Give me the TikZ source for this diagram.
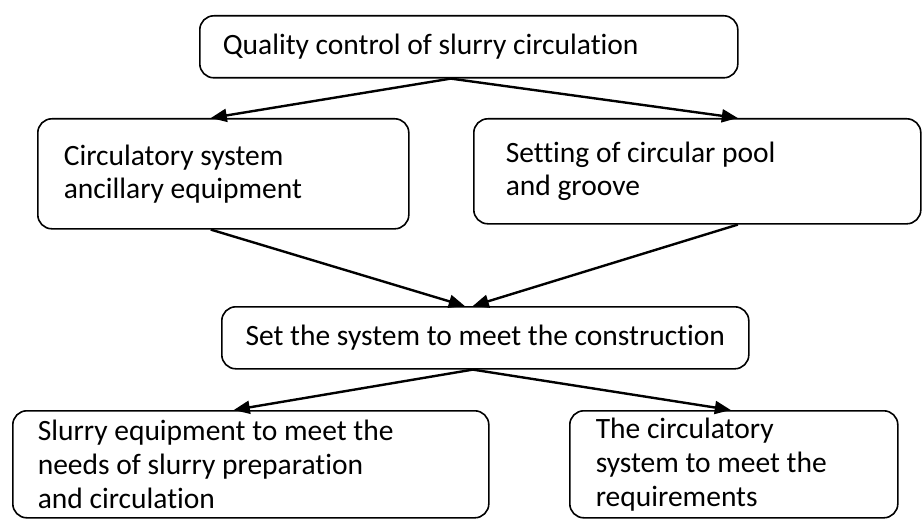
\documentclass[tikz,border=0pt]{standalone}
\usepackage{fontspec}
\setmainfont{Carlito}[Ligatures=NoCommon]
\usetikzlibrary{arrows.meta}
\tikzset{
	box/.style={draw, rounded corners=14pt, line width=1.6pt, align=flush left, anchor=north west, inner ysep=0pt, font=\fontsize{29.5}{33}\selectfont},
	lowbox/.style={box, font=\fontsize{29.5}{34}\selectfont},
	arr/.style={-{Triangle[length=16pt,width=13pt]}, line width=2.4pt}
}

\begin{document}
\begin{tikzpicture}[x=1pt,y=-1pt,color=black]
	\useasboundingbox (0,0) rectangle (922,519);
	\node[box, text width=492pt, inner xsep=23pt, minimum height=62pt] (qc) at (199,15) {Quality control of slurry circulation};
	\node[box, text width=319pt, inner xsep=26pt, minimum height=110pt] (cs) at (37,118) {Circulatory system\\ancillary equipment};
	\node[box, text width=383pt, inner xsep=32pt, minimum height=105pt] (sp) at (473,118) {Setting of circular pool\\and groove};
	\node[box, inner xsep=0pt, minimum width=527pt, minimum height=62pt] (st) at (221,306) {Set the system to meet the construction};
	\node[lowbox, text width=426pt, inner xsep=25pt, minimum height=107pt] (se) at (12,410) {Slurry equipment to meet the\\needs of slurry preparation\\and circulation};
	\node[lowbox, text width=276pt, inner xsep=26pt, minimum height=107pt] (cr) at (569,410) {The circulatory\\system to meet the\\requirements};
	
	\draw[arr] ([xshift=-18pt]qc.south) -- ([xshift=-12.5pt]cs.north);
	\draw[arr] ([xshift=-18pt]qc.south) -- ([xshift=40.5pt]sp.north);
	\draw[arr] ([xshift=-12.5pt]cs.south) -- ([xshift=-20.5pt]st.north);
	\draw[arr] ([xshift=40.5pt]sp.south) -- ([xshift=-12.5pt]st.north);
	\draw[arr] ([xshift=-12.5pt]st.south) -- ([xshift=-17pt]se.north);
	\draw[arr] ([xshift=-12.5pt]st.south) -- ([xshift=-3pt]cr.north);
\end{tikzpicture}
\end{document}
